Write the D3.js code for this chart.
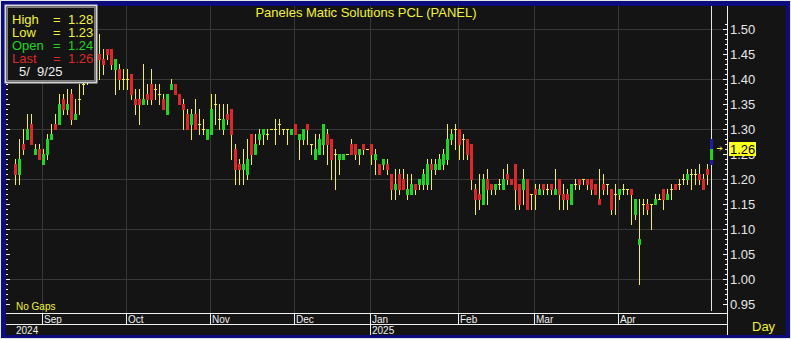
<!DOCTYPE html>
<html>
<head>
<meta charset="utf-8">
<script src="https://cdn.jsdelivr.net/npm/d3@7"></script>
<style>
body { margin: 0; background: #e4e4ec; }
svg { display: block; }
text { font-family: "Liberation Sans", Arial, sans-serif; }
</style>
</head>
<body>
<div id="chart"></div>
<script>
// trading calendar (SET), Aug 2024 - May 2025
var firstDay = "2024-08-22";
var lastDay = "2025-05-09";
var holidays = ["2024-10-14", "2024-10-23", "2024-12-05", "2024-12-10", "2024-12-31",
    "2025-01-01", "2025-02-12", "2025-04-07", "2025-04-14", "2025-04-15",
    "2025-05-01", "2025-05-05"];

var opens = [1.23,1.21,1.27,1.28,1.31,1.25,1.26,1.23,1.25,1.28,1.31,1.31,1.36,1.34,1.37,1.32,1.36,1.39,1.40,1.42,
    1.45,1.45,1.44,1.46,1.46,1.42,1.42,1.40,1.40,1.41,1.36,1.36,1.35,1.37,1.39,1.38,1.37,1.36,1.33,1.38,
    1.39,1.37,1.35,1.33,1.31,1.33,1.31,1.30,1.28,1.29,1.35,1.32,1.30,1.33,1.34,1.26,1.23,1.22,1.21,1.29,
    1.25,1.28,1.29,1.29,1.30,1.30,1.31,1.30,1.30,1.29,1.31,1.28,1.28,1.31,1.27,1.24,1.25,1.27,1.29,1.28,
    1.25,1.24,1.24,1.25,1.27,1.27,1.25,1.27,1.26,1.27,1.24,1.23,1.23,1.23,1.21,1.18,1.21,1.20,1.17,1.17,
    1.19,1.19,1.19,1.19,1.23,1.22,1.22,1.23,1.24,1.28,1.30,1.30,1.28,1.28,1.27,1.18,1.17,1.15,1.20,1.19,
    1.18,1.19,1.18,1.21,1.20,1.23,1.19,1.18,1.20,1.17,1.18,1.17,1.19,1.18,1.19,1.17,1.20,1.17,1.17,1.15,
    1.19,1.20,1.20,1.20,1.20,1.19,1.16,1.19,1.19,1.18,1.17,1.17,1.18,1.18,1.18,1.13,1.07,1.15,1.15,1.15,
    1.15,1.16,1.18,1.16,1.18,1.19,1.19,1.20,1.20,1.21,1.21,1.21,1.20,1.22,1.24];
var highs = [1.24,1.28,1.30,1.33,1.33,1.27,1.27,1.26,1.29,1.31,1.33,1.37,1.37,1.38,1.38,1.36,1.39,1.41,1.43,1.46,
    1.48,1.49,1.46,1.46,1.46,1.44,1.43,1.42,1.42,1.41,1.38,1.38,1.43,1.39,1.42,1.39,1.39,1.37,1.37,1.40,
    1.39,1.37,1.36,1.34,1.34,1.36,1.34,1.32,1.30,1.37,1.37,1.35,1.35,1.35,1.34,1.27,1.24,1.26,1.28,1.29,
    1.29,1.30,1.30,1.30,1.30,1.32,1.32,1.30,1.30,1.30,1.31,1.29,1.30,1.31,1.27,1.29,1.29,1.31,1.30,1.28,
    1.26,1.25,1.25,1.25,1.28,1.27,1.26,1.27,1.26,1.27,1.26,1.23,1.24,1.24,1.21,1.22,1.22,1.22,1.21,1.21,
    1.19,1.20,1.22,1.24,1.24,1.24,1.25,1.26,1.31,1.30,1.31,1.30,1.29,1.28,1.27,1.19,1.21,1.21,1.22,1.19,
    1.19,1.20,1.22,1.23,1.20,1.23,1.19,1.22,1.20,1.17,1.19,1.19,1.19,1.19,1.19,1.22,1.20,1.19,1.18,1.19,
    1.20,1.20,1.20,1.20,1.20,1.19,1.22,1.21,1.19,1.18,1.19,1.18,1.19,1.18,1.18,1.16,1.16,1.16,1.16,1.15,
    1.17,1.17,1.18,1.18,1.19,1.19,1.20,1.21,1.22,1.22,1.22,1.23,1.21,1.23,1.28];
var lows = [1.19,1.19,1.25,1.28,1.27,1.25,1.24,1.23,1.24,1.28,1.30,1.31,1.33,1.33,1.31,1.32,1.33,1.37,1.39,1.41,
    1.43,1.40,1.41,1.44,1.42,1.37,1.38,1.38,1.38,1.36,1.33,1.31,1.35,1.35,1.35,1.36,1.35,1.34,1.33,1.38,
    1.37,1.35,1.30,1.30,1.28,1.30,1.29,1.29,1.28,1.29,1.31,1.30,1.29,1.31,1.24,1.19,1.19,1.19,1.20,1.23,
    1.25,1.27,1.27,1.28,1.30,1.27,1.29,1.29,1.27,1.29,1.29,1.24,1.27,1.27,1.25,1.24,1.25,1.25,1.23,1.20,
    1.18,1.21,1.24,1.25,1.25,1.24,1.23,1.25,1.26,1.23,1.21,1.21,1.22,1.21,1.16,1.16,1.17,1.18,1.16,1.17,
    1.17,1.18,1.18,1.18,1.18,1.21,1.22,1.22,1.23,1.27,1.26,1.24,1.24,1.24,1.18,1.13,1.14,1.15,1.15,1.17,
    1.17,1.18,1.18,1.19,1.19,1.14,1.14,1.15,1.14,1.14,1.14,1.17,1.17,1.17,1.17,1.17,1.14,1.14,1.14,1.15,
    1.18,1.18,1.19,1.18,1.17,1.17,1.15,1.17,1.17,1.13,1.13,1.16,1.17,1.17,1.11,1.12,0.99,1.13,1.13,1.10,
    1.15,1.16,1.14,1.16,1.16,1.18,1.18,1.19,1.19,1.18,1.19,1.19,1.18,1.19,1.23];
var closes = [1.21,1.24,1.26,1.30,1.27,1.26,1.24,1.25,1.28,1.29,1.30,1.35,1.34,1.35,1.32,1.33,1.36,1.39,1.42,1.45,
    1.44,1.44,1.43,1.45,1.43,1.44,1.40,1.40,1.40,1.37,1.35,1.35,1.36,1.36,1.36,1.38,1.37,1.34,1.37,1.39,
    1.37,1.35,1.34,1.30,1.33,1.30,1.31,1.30,1.30,1.34,1.35,1.32,1.32,1.32,1.29,1.22,1.22,1.23,1.24,1.25,
    1.27,1.29,1.30,1.29,1.30,1.30,1.31,1.30,1.30,1.30,1.29,1.29,1.30,1.30,1.27,1.26,1.28,1.31,1.27,1.24,
    1.25,1.25,1.25,1.25,1.25,1.25,1.26,1.26,1.26,1.25,1.25,1.21,1.24,1.22,1.18,1.19,1.18,1.18,1.18,1.19,
    1.18,1.20,1.21,1.23,1.22,1.23,1.24,1.25,1.28,1.29,1.30,1.27,1.28,1.25,1.20,1.16,1.16,1.20,1.18,1.18,
    1.19,1.19,1.20,1.20,1.19,1.18,1.15,1.20,1.14,1.17,1.17,1.18,1.18,1.18,1.18,1.18,1.17,1.16,1.16,1.19,
    1.19,1.19,1.20,1.19,1.18,1.17,1.15,1.18,1.19,1.14,1.17,1.18,1.18,1.18,1.17,1.16,1.08,1.15,1.14,1.15,
    1.16,1.16,1.16,1.17,1.18,1.18,1.19,1.20,1.21,1.21,1.21,1.20,1.18,1.21,1.26];

var priceTicks = [0.95, 1.00, 1.05, 1.10, 1.15, 1.20, 1.25, 1.30, 1.35, 1.40, 1.45, 1.50];
var gridTicks = [1.00, 1.10, 1.20, 1.30, 1.40, 1.50];
var title = "Paneles  Matic  Solutions  PCL  (PANEL)";
var legendRows = [["High", "1.28", "#f2f23c"], ["Low", "1.23", "#f2f23c"],
    ["Open", "1.24", "#22d422"], ["Last", "1.26", "#dc2828"]];
var legendDate = "5/  9/25";

var W = 791, H = 339;
var plotL = 6, plotR = 727, plotT = 6, plotB = 313;

var fmt = d3.timeFormat("%Y-%m-%d");
var parse = d3.timeParse("%Y-%m-%d");
var days = d3.timeDay.range(parse(firstDay), d3.timeDay.offset(parse(lastDay), 1))
    .filter(function(d) { return d.getDay() != 0 && d.getDay() != 6 && holidays.indexOf(fmt(d)) < 0; });

var data = days.map(function(d, i) {
    return {date: d, o: opens[i], h: highs[i], l: lows[i], c: closes[i]};
});
var n = data.length;

var x = d3.scaleLinear().domain([0, n - 1]).range([15, 711]);
var y = d3.scaleLinear().domain([1.0, 1.5]).range([279, 29]);

var svg = d3.select("#chart").append("svg")
    .attr("width", W).attr("height", H);

svg.append("rect").attr("x", 1).attr("y", 1).attr("width", W - 2).attr("height", H - 2).attr("fill", "#0c0c7c");
svg.append("rect").attr("x", plotL).attr("y", plotT).attr("width", 786 - plotL).attr("height", 335 - plotT).attr("fill", "#141414");

// month starts (the current, unfinished month gets no mark)
var monthIdx = [];
data.forEach(function(d, i) {
    if (i > 0 && d.date.getMonth() != data[i - 1].date.getMonth() && x(i) < plotR - 40) monthIdx.push(i);
});
var yearIdx = monthIdx.filter(function(i) { return data[i].date.getMonth() == 0; });

// grid
svg.selectAll("line.hgrid").data(gridTicks).enter().append("line")
    .attr("x1", plotL).attr("x2", plotR)
    .attr("y1", function(d) { return Math.round(y(d)) + 0.5; })
    .attr("y2", function(d) { return Math.round(y(d)) + 0.5; })
    .attr("stroke", "#383838");
svg.selectAll("line.vgrid").data(monthIdx).enter().append("line")
    .attr("x1", function(i) { return Math.round(x(i)) - 0.5; })
    .attr("x2", function(i) { return Math.round(x(i)) - 0.5; })
    .attr("y1", plotT).attr("y2", plotB)
    .attr("stroke", "#383838");

// cursor line
svg.append("line").attr("x1", x(n - 1) + 0.5).attr("x2", x(n - 1) + 0.5)
    .attr("y1", plotT).attr("y2", 311).attr("stroke", "#e6e6e6");

// candles
var candles = svg.append("g");
var body = function(d) { return Math.max(0, Math.round(y(Math.min(d.o, d.c)) - y(Math.max(d.o, d.c)))); };
var past = data.slice(0, n - 1);
candles.selectAll("line.wick").data(past).enter().append("line")
    .attr("x1", function(d, i) { return x(i) + 0.5; })
    .attr("x2", function(d, i) { return x(i) + 0.5; })
    .attr("y1", function(d) { return Math.round(y(d.h)); })
    .attr("y2", function(d) { return Math.round(y(d.l)) + 1; })
    .attr("stroke", "#f2f23c");
candles.selectAll("rect.body").data(past.filter(function(d) { return d.o != d.c; })).enter().append("rect")
    .attr("x", function(d) { return x(data.indexOf(d)) - 1; })
    .attr("y", function(d) { return Math.round(y(Math.max(d.o, d.c))); })
    .attr("width", 3)
    .attr("height", function(d) { return body(d) + 1; })
    .attr("fill", function(d) { return d.c > d.o ? "#22d422" : "#dc2828"; });
candles.selectAll("line.doji").data(past.filter(function(d) { return d.o == d.c; })).enter().append("line")
    .attr("x1", function(d) { return x(data.indexOf(d)) - 1; })
    .attr("x2", function(d) { return x(data.indexOf(d)) + 2; })
    .attr("y1", function(d) { return Math.round(y(d.o)) + 0.5; })
    .attr("y2", function(d) { return Math.round(y(d.o)) + 0.5; })
    .attr("stroke", "#f2f23c");

// selected (last) bar
var cur = data[n - 1];
svg.append("rect").attr("x", x(n - 1) - 1).attr("y", Math.round(y(cur.h)))
    .attr("width", 3).attr("height", Math.round(y(cur.l) - y(cur.h)) + 1).attr("fill", "#1c1ca8");
svg.append("rect").attr("x", x(n - 1) - 1).attr("y", Math.round(y(Math.max(cur.o, cur.c))))
    .attr("width", 3).attr("height", body(cur) + 1).attr("fill", cur.c > cur.o ? "#22d422" : "#dc2828");

// right price axis
var yAxis = d3.axisRight(y).tickValues(priceTicks).tickSize(0).tickFormat(d3.format(".2f"));
var ga = svg.append("g").attr("transform", "translate(" + plotR + ",0)").call(yAxis);
ga.select(".domain").remove();
ga.selectAll("text").attr("x", 3).attr("fill", "#e6e6e6").style("font-size", "13px");
ga.append("line").attr("x1", 0.5).attr("x2", 0.5).attr("y1", plotT).attr("y2", 335).attr("stroke", "#f0f0f0");
var minor = d3.range(95, 152).map(function(v) { return v / 100; });
[plotR, plotL].forEach(function(ax) {
    var dir = ax == plotR ? -1 : 1;
    svg.append("g").selectAll("line").data(minor).enter().append("line")
        .attr("x1", ax)
        .attr("x2", function(v) { return ax + dir * (Math.round(v * 100) % 5 == 0 ? 4 : 2); })
        .attr("y1", function(v) { return Math.round(y(v)) + 0.5; })
        .attr("y2", function(v) { return Math.round(y(v)) + 0.5; })
        .attr("stroke", "#f0f0f0");
});

// last price marker
svg.append("rect").attr("x", 729).attr("y", Math.round(y(cur.c)) - 7).attr("width", 27).attr("height", 14).attr("fill", "#ffff22");
svg.append("text").attr("x", 730).attr("y", Math.round(y(cur.c)) + 5).attr("fill", "#000")
    .style("font-size", "13px").text(d3.format(".2f")(cur.c));
svg.append("path").attr("d", "M717," + (Math.round(y(cur.c)) - 0.5) + "h5m-2,-2l2,2l-2,2")
    .attr("stroke", "#ffff22").attr("fill", "none");

// time axis
svg.append("line").attr("x1", plotL).attr("x2", plotR).attr("y1", plotB + 0.5).attr("y2", plotB + 0.5).attr("stroke", "#f0f0f0");
svg.append("line").attr("x1", plotL).attr("x2", plotR).attr("y1", 324.5).attr("y2", 324.5).attr("stroke", "#f0f0f0");
svg.selectAll("line.msep").data(monthIdx).enter().append("line")
    .attr("x1", function(i) { return Math.round(x(i)) - 0.5; })
    .attr("x2", function(i) { return Math.round(x(i)) - 0.5; })
    .attr("y1", plotB).attr("y2", 324).attr("stroke", "#f0f0f0");
svg.selectAll("text.month").data(monthIdx).enter().append("text")
    .attr("x", function(i) { return Math.round(x(i)) + 1; })
    .attr("y", 323).attr("fill", "#f0f0f0").style("font-size", "10px")
    .text(function(i) { return d3.timeFormat("%b")(data[i].date); });
svg.selectAll("line.ysep").data(yearIdx).enter().append("line")
    .attr("x1", function(i) { return Math.round(x(i)) - 0.5; })
    .attr("x2", function(i) { return Math.round(x(i)) - 0.5; })
    .attr("y1", 324).attr("y2", 335).attr("stroke", "#f0f0f0");
svg.selectAll("text.year").data([0].concat(yearIdx)).enter().append("text")
    .attr("x", function(i) { return i == 0 ? 16 : Math.round(x(i)) + 1; })
    .attr("y", 334).attr("fill", "#f0f0f0").style("font-size", "10px")
    .text(function(i) { return d3.timeFormat("%Y")(data[i].date); });

svg.append("text").attr("x", 752).attr("y", 331).attr("fill", "#f2f23c").style("font-size", "13px").text("Day");
svg.append("text").attr("x", 16).attr("y", 310).attr("fill", "#f2f23c").style("font-size", "10px").text("No  Gaps");

// title
svg.append("text").attr("x", 366).attr("y", 17).attr("text-anchor", "middle")
    .attr("fill", "#f2f23c").style("font-size", "13px").text(title);

// legend
var lg = svg.append("g");
lg.append("rect").attr("x", 5.5).attr("y", 5.5).attr("width", 91).attr("height", 77)
    .attr("fill", "#141414").attr("stroke", "#d4d4d4").attr("stroke-width", 2);
lg.append("rect").attr("x", 7.5).attr("y", 7.5).attr("width", 87).attr("height", 73)
    .attr("fill", "none").attr("stroke", "#808080").attr("stroke-width", 1);
lg.selectAll("g.row").data(legendRows).enter().append("g").each(function(r, i) {
    var g = d3.select(this);
    var yy = 24 + i * 13;
    g.append("text").attr("x", 12).attr("y", yy).attr("fill", r[2]).style("font-size", "13px").text(r[0]);
    g.append("text").attr("x", 53).attr("y", yy).attr("fill", r[2]).style("font-size", "13px").text("=");
    g.append("text").attr("x", 68).attr("y", yy).attr("fill", r[2]).style("font-size", "13px").text(r[1]);
});
lg.append("text").attr("x", 19).attr("y", 76).attr("fill", "#f0f0f0").style("font-size", "13px")
    .style("white-space", "pre").attr("xml:space", "preserve").text(legendDate);
</script>
</body>
</html>
